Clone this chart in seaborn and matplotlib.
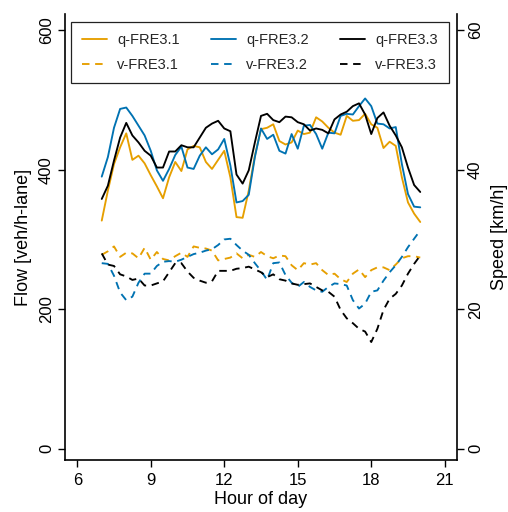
import numpy as np
import pandas as pd
import matplotlib
matplotlib.use("Agg")
import matplotlib.pyplot as plt
import seaborn as sns

# ---------------- data ----------------
hours = [7.0, 7.25, 7.5, 7.75, 8.0, 8.25, 8.5, 8.75, 9.0, 9.25, 9.5, 9.75,
         10.0, 10.25, 10.5, 10.75, 11.0, 11.25, 11.5, 11.75, 12.0, 12.25, 12.5, 12.75,
         13.0, 13.25, 13.5, 13.75, 14.0, 14.25, 14.5, 14.75, 15.0, 15.25, 15.5, 15.75,
         16.0, 16.25, 16.5, 16.75, 17.0, 17.25, 17.5, 17.75, 18.0, 18.25, 18.5, 18.75,
         19.0, 19.25, 19.5, 19.75, 20.0]

q_fre31 = [327, 370, 408, 432, 452, 414, 420, 409, 392, 376, 359, 389,
           411, 398, 429, 434, 432, 411, 401, 414, 427, 389, 332, 331,
           370, 420, 458, 460, 465, 441, 436, 439, 456, 451, 453, 475,
           469, 460, 453, 450, 477, 470, 471, 480, 465, 460, 431, 440,
           434, 389, 353, 337, 325]

q_fre32 = [390, 418, 460, 487, 489, 477, 463, 449, 427, 399, 384, 401,
           421, 433, 403, 401, 420, 432, 422, 429, 444, 406, 353, 355,
           364, 418, 459, 444, 450, 427, 423, 451, 430, 463, 464, 451,
           430, 453, 452, 477, 480, 479, 491, 502, 491, 466, 465, 459,
           461, 408, 365, 347, 346]

q_fre33 = [358, 377, 413, 446, 467, 449, 439, 427, 420, 403, 403, 426,
           426, 435, 432, 432, 446, 460, 466, 470, 459, 455, 393, 380,
           399, 439, 477, 480, 471, 468, 476, 475, 468, 465, 456, 459,
           457, 452, 472, 479, 483, 491, 495, 479, 451, 474, 482, 463,
           449, 432, 403, 378, 368]

v_fre31 = [27.8, 28.3, 29.0, 27.5, 28.1, 28.0, 27.3, 28.8, 27.1, 28.2, 27.2, 27.0,
           27.6, 28.1, 27.5, 29.0, 28.8, 28.7, 28.4, 27.0, 27.2, 27.4, 28.0, 27.3,
           27.8, 27.5, 28.2, 27.6, 27.3, 27.7, 27.6, 26.3, 25.6, 26.6, 26.4, 26.6,
           25.6, 24.9, 25.1, 24.3, 23.9, 25.1, 25.7, 24.6, 25.6, 26.0, 26.0, 25.6,
           26.4, 27.3, 27.6, 27.6, 27.4]

v_fre32 = [26.6, 26.5, 24.8, 22.4, 21.3, 21.8, 23.8, 25.1, 25.1, 26.2, 26.8, 26.9,
           26.8, 27.1, 27.5, 27.9, 28.1, 28.4, 28.6, 29.2, 30.0, 30.1, 29.2, 28.4,
           27.8, 26.6, 25.5, 24.2, 26.6, 26.7, 24.9, 23.8, 23.2, 23.9, 23.2, 22.7,
           22.5, 23.2, 23.7, 23.6, 23.4, 21.3, 20.1, 20.8, 22.5, 22.7, 24.1, 25.3,
           26.3, 27.5, 28.9, 30.1, 31.3]

v_fre33 = [28.0, 26.4, 26.2, 25.0, 24.7, 24.2, 24.4, 23.4, 23.4, 23.7, 24.0, 25.3,
           26.6, 26.6, 25.4, 24.5, 24.1, 23.8, 24.0, 25.5, 25.5, 25.5, 25.8, 25.9,
           26.1, 25.7, 25.3, 24.6, 25.0, 24.3, 24.1, 23.7, 23.5, 23.6, 23.7, 23.2,
           22.7, 22.5, 21.8, 19.9, 18.7, 18.0, 17.2, 16.8, 15.3, 17.2, 19.9, 21.5,
           22.2, 23.4, 25.1, 26.5, 27.7]

series_names = ["FRE3.1", "FRE3.2", "FRE3.3"]
flow_ticks = [0, 200, 400, 600]
speed_ticks = [0, 20, 40, 60]
hour_ticks = [6, 9, 12, 15, 18, 21]

# ---------------- style ----------------
sns.set_theme(style="white")
plt.rcParams["font.family"] = ["Liberation Sans", "DejaVu Sans"]

colors = ["#E69F00", "#0072B2", "#000000"]
LW = 1.35
DASH = (0, (4, 3))

fig = plt.figure(figsize=(5.08, 5.12), dpi=100)
fig.patch.set_facecolor("white")
ax = fig.add_axes([65 / 508, 52 / 512, (457 - 65) / 508, (460 - 14) / 512])
ax2 = ax.twinx()

flows = [q_fre31, q_fre32, q_fre33]
speeds = [v_fre31, v_fre32, v_fre33]

q_handles, v_handles = [], []
for name, q, c in zip(series_names, flows, colors):
    sns.lineplot(x=hours, y=q, ax=ax, color=c, lw=LW, label="q-" + name)
    q_handles.append(ax.get_lines()[-1])
for name, v, c in zip(series_names, speeds, colors):
    sns.lineplot(x=hours, y=v, ax=ax2, color=c, lw=LW, linestyle=DASH, label="v-" + name)
    v_handles.append(ax2.get_lines()[-1])

for a in (ax, ax2):
    lg = a.get_legend()
    if lg is not None:
        lg.remove()

ax.set_xlim(5.5, 21.5)
ax.set_ylim(-16, 623)
ax2.set_ylim(-1.6, 62.3)

ax.set_xticks(hour_ticks)
ax.set_xticklabels([str(h) for h in hour_ticks])
ax.set_yticks(flow_ticks)
ax.set_yticklabels([str(t) for t in flow_ticks], rotation=90, va="center")
ax2.set_yticks(speed_ticks)
ax2.set_yticklabels([str(t) for t in speed_ticks], rotation=90, va="center")

for a in (ax, ax2):
    a.tick_params(axis="both", which="major", direction="out", length=5, width=1,
                  color="black", labelsize=12, labelcolor="black", pad=3)
    a.set_facecolor("none")
    for s in a.spines.values():
        s.set_color("black")
        s.set_linewidth(1.2)
    a.spines["top"].set_visible(False)

ax.tick_params(axis="x", bottom=True, top=False, pad=4.5)
ax.tick_params(axis="y", left=True, right=False)
ax2.tick_params(axis="y", right=True, left=False)
ax2.spines["left"].set_visible(False)
ax2.spines["bottom"].set_visible(False)
ax.spines["right"].set_visible(False)

ax.set_xlabel("Hour of day", fontsize=13, color="black", labelpad=2)
ax.set_ylabel("Flow [veh/h-lane]", fontsize=13, color="black", labelpad=5)
ax2.set_ylabel("Speed [km/h]", fontsize=13, color="black", rotation=90, labelpad=6)

handles = []
for qh, vh in zip(q_handles, v_handles):
    handles += [qh, vh]
labels = [h.get_label() for h in handles]
leg = ax2.legend(handles, labels, ncol=3, loc="upper center",
                 bbox_to_anchor=(0.497, 0.981), borderaxespad=0,
                 fontsize=10.5, frameon=True, fancybox=False, framealpha=1,
                 edgecolor="#222222", handlelength=1.75, handletextpad=0.7,
                 columnspacing=2.1, labelspacing=0.75, borderpad=0.75)
leg.get_frame().set_linewidth(0.9)

fig.savefig("out.png", dpi=100, facecolor="white")
